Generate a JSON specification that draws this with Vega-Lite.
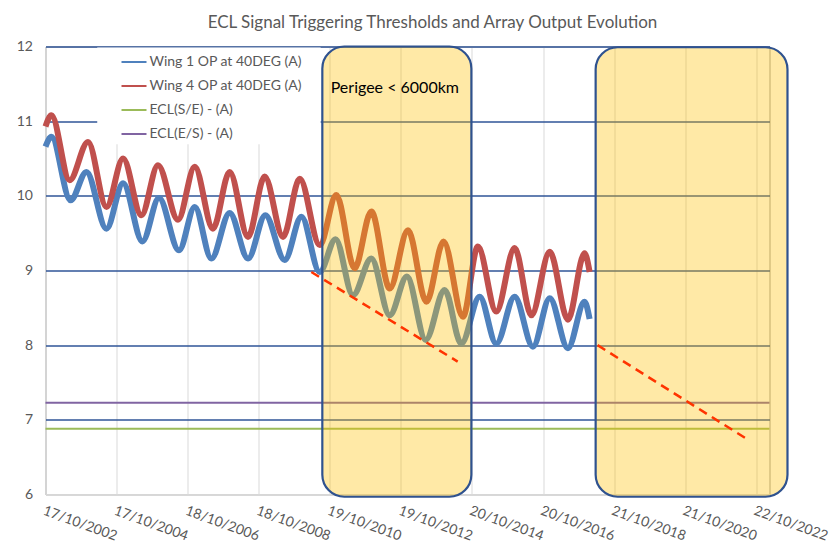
{
  "$schema": "https://vega.github.io/schema/vega-lite/v6.json",
  "width": 724,
  "height": 448,
  "autosize": {"type": "none"},
  "padding": {"left": 45.5, "top": 46.5, "right": 68.5, "bottom": 50.5},
  "background": "white",
  "title": {
    "text": "ECL Signal Triggering Thresholds and Array Output Evolution",
    "font": "Lato", "fontSize": 17, "fontWeight": "normal", "color": "#595959",
    "anchor": "middle", "offset": 8, "dx": 25
  },
  "config": {
    "view": {"stroke": "#A0A0A0", "strokeWidth": 1},
    "axis": {"labelFont": "Lato", "labelFontSize": 14, "labelColor": "#595959"}
  },
  "datasets": {
    "wing": [
      {"d": "2002-10-17", "s": "Wing 1 OP at 40DEG (A)", "v": 10.66},
      {"d": "2002-12-17", "s": "Wing 1 OP at 40DEG (A)", "v": 10.79},
      {"d": "2003-07-02", "s": "Wing 1 OP at 40DEG (A)", "v": 9.94},
      {"d": "2003-12-12", "s": "Wing 1 OP at 40DEG (A)", "v": 10.32},
      {"d": "2004-07-05", "s": "Wing 1 OP at 40DEG (A)", "v": 9.56},
      {"d": "2004-12-23", "s": "Wing 1 OP at 40DEG (A)", "v": 10.17},
      {"d": "2005-07-10", "s": "Wing 1 OP at 40DEG (A)", "v": 9.39},
      {"d": "2005-12-27", "s": "Wing 1 OP at 40DEG (A)", "v": 9.97},
      {"d": "2006-07-21", "s": "Wing 1 OP at 40DEG (A)", "v": 9.27},
      {"d": "2006-12-30", "s": "Wing 1 OP at 40DEG (A)", "v": 9.85},
      {"d": "2007-06-19", "s": "Wing 1 OP at 40DEG (A)", "v": 9.16},
      {"d": "2007-12-24", "s": "Wing 1 OP at 40DEG (A)", "v": 9.77},
      {"d": "2008-06-30", "s": "Wing 1 OP at 40DEG (A)", "v": 9.16},
      {"d": "2008-12-25", "s": "Wing 1 OP at 40DEG (A)", "v": 9.74},
      {"d": "2009-07-12", "s": "Wing 1 OP at 40DEG (A)", "v": 9.14},
      {"d": "2009-12-31", "s": "Wing 1 OP at 40DEG (A)", "v": 9.72},
      {"d": "2010-07-07", "s": "Wing 1 OP at 40DEG (A)", "v": 8.98},
      {"d": "2010-12-17", "s": "Wing 1 OP at 40DEG (A)", "v": 9.42},
      {"d": "2011-06-14", "s": "Wing 1 OP at 40DEG (A)", "v": 8.67},
      {"d": "2011-12-20", "s": "Wing 1 OP at 40DEG (A)", "v": 9.16},
      {"d": "2012-06-26", "s": "Wing 1 OP at 40DEG (A)", "v": 8.40},
      {"d": "2012-12-20", "s": "Wing 1 OP at 40DEG (A)", "v": 8.92},
      {"d": "2013-07-01", "s": "Wing 1 OP at 40DEG (A)", "v": 8.07},
      {"d": "2014-01-12", "s": "Wing 1 OP at 40DEG (A)", "v": 8.74},
      {"d": "2014-07-02", "s": "Wing 1 OP at 40DEG (A)", "v": 8.02},
      {"d": "2015-01-07", "s": "Wing 1 OP at 40DEG (A)", "v": 8.65},
      {"d": "2015-06-27", "s": "Wing 1 OP at 40DEG (A)", "v": 8.02},
      {"d": "2016-01-02", "s": "Wing 1 OP at 40DEG (A)", "v": 8.65},
      {"d": "2016-07-08", "s": "Wing 1 OP at 40DEG (A)", "v": 7.98},
      {"d": "2016-12-28", "s": "Wing 1 OP at 40DEG (A)", "v": 8.63},
      {"d": "2017-07-03", "s": "Wing 1 OP at 40DEG (A)", "v": 7.96},
      {"d": "2017-12-21", "s": "Wing 1 OP at 40DEG (A)", "v": 8.58},
      {"d": "2018-02-11", "s": "Wing 1 OP at 40DEG (A)", "v": 8.35},
      {"d": "2002-10-17", "s": "Wing 4 OP at 40DEG (A)", "v": 10.93},
      {"d": "2002-12-17", "s": "Wing 4 OP at 40DEG (A)", "v": 11.08},
      {"d": "2003-06-22", "s": "Wing 4 OP at 40DEG (A)", "v": 10.21},
      {"d": "2003-12-28", "s": "Wing 4 OP at 40DEG (A)", "v": 10.72},
      {"d": "2004-07-05", "s": "Wing 4 OP at 40DEG (A)", "v": 9.85},
      {"d": "2004-12-23", "s": "Wing 4 OP at 40DEG (A)", "v": 10.50},
      {"d": "2005-06-29", "s": "Wing 4 OP at 40DEG (A)", "v": 9.74},
      {"d": "2005-12-17", "s": "Wing 4 OP at 40DEG (A)", "v": 10.41},
      {"d": "2006-07-11", "s": "Wing 4 OP at 40DEG (A)", "v": 9.68},
      {"d": "2006-12-30", "s": "Wing 4 OP at 40DEG (A)", "v": 10.39},
      {"d": "2007-07-05", "s": "Wing 4 OP at 40DEG (A)", "v": 9.56},
      {"d": "2007-12-24", "s": "Wing 4 OP at 40DEG (A)", "v": 10.32},
      {"d": "2008-06-30", "s": "Wing 4 OP at 40DEG (A)", "v": 9.45},
      {"d": "2008-12-18", "s": "Wing 4 OP at 40DEG (A)", "v": 10.26},
      {"d": "2009-06-25", "s": "Wing 4 OP at 40DEG (A)", "v": 9.45},
      {"d": "2009-12-14", "s": "Wing 4 OP at 40DEG (A)", "v": 10.23},
      {"d": "2010-07-07", "s": "Wing 4 OP at 40DEG (A)", "v": 9.34},
      {"d": "2010-12-25", "s": "Wing 4 OP at 40DEG (A)", "v": 10.01},
      {"d": "2011-07-01", "s": "Wing 4 OP at 40DEG (A)", "v": 9.03},
      {"d": "2011-12-20", "s": "Wing 4 OP at 40DEG (A)", "v": 9.79},
      {"d": "2012-06-26", "s": "Wing 4 OP at 40DEG (A)", "v": 8.76},
      {"d": "2012-12-31", "s": "Wing 4 OP at 40DEG (A)", "v": 9.54},
      {"d": "2013-07-08", "s": "Wing 4 OP at 40DEG (A)", "v": 8.58},
      {"d": "2014-01-01", "s": "Wing 4 OP at 40DEG (A)", "v": 9.39},
      {"d": "2014-07-19", "s": "Wing 4 OP at 40DEG (A)", "v": 8.38},
      {"d": "2014-12-20", "s": "Wing 4 OP at 40DEG (A)", "v": 9.32},
      {"d": "2015-06-27", "s": "Wing 4 OP at 40DEG (A)", "v": 8.45},
      {"d": "2016-01-02", "s": "Wing 4 OP at 40DEG (A)", "v": 9.30},
      {"d": "2016-06-22", "s": "Wing 4 OP at 40DEG (A)", "v": 8.40},
      {"d": "2016-12-28", "s": "Wing 4 OP at 40DEG (A)", "v": 9.25},
      {"d": "2017-07-03", "s": "Wing 4 OP at 40DEG (A)", "v": 8.34},
      {"d": "2017-12-21", "s": "Wing 4 OP at 40DEG (A)", "v": 9.23},
      {"d": "2018-02-11", "s": "Wing 4 OP at 40DEG (A)", "v": 8.98}
    ],
    "thresholds": [
      {"s": "ECL(S/E) - (A)", "v": 6.88},
      {"s": "ECL(E/S) - (A)", "v": 7.23}
    ],
    "boxes": [
      {"d1": "2010-08-03", "d2": "2014-10-14", "v1": 5.97, "v2": 12},
      {"d1": "2018-04-14", "d2": "2023-09-08", "v1": 5.97, "v2": 11.99}
    ],
    "blank": [
      {"d1": "2004-04-01", "d2": "2010-07-17", "v1": 10.69, "v2": 11.985}
    ],
    "trend": [
      {"seg": 1, "d": "2010-04-12", "v": 8.98},
      {"seg": 1, "d": "2014-05-26", "v": 7.78},
      {"seg": 2, "d": "2018-05-04", "v": 8.00},
      {"seg": 2, "d": "2022-08-14", "v": 6.72}
    ],
    "notes": [
      {"d": "2010-10-28", "v": 11.444, "t": "Perigee < 6000km"}
    ]
  },
  "layer": [
    {
      "data": {"name": "blank"},
      "mark": {"type": "rect", "fill": "white"},
      "encoding": {
        "x": {
          "field": "d1", "type": "temporal",
          "scale": {
            "type": "utc",
            "domain": [
              {"year": 2002, "month": 10, "date": 17, "utc": true},
              {"year": 2023, "month": 3, "date": 7, "utc": true}
            ]
          },
          "axis": {
            "title": null,
            "values": [
              {"year": 2002, "month": 10, "date": 17, "utc": true},
              {"year": 2004, "month": 10, "date": 17, "utc": true},
              {"year": 2006, "month": 10, "date": 18, "utc": true},
              {"year": 2008, "month": 10, "date": 18, "utc": true},
              {"year": 2010, "month": 10, "date": 19, "utc": true},
              {"year": 2012, "month": 10, "date": 19, "utc": true},
              {"year": 2014, "month": 10, "date": 20, "utc": true},
              {"year": 2016, "month": 10, "date": 20, "utc": true},
              {"year": 2018, "month": 10, "date": 21, "utc": true},
              {"year": 2020, "month": 10, "date": 21, "utc": true},
              {"year": 2022, "month": 10, "date": 22, "utc": true}
            ],
            "labelExpr": "utcFormat(datum.value, '%d/%m/%Y')",
            "grid": true,
            "gridColor": "#D9D9D9",
            "gridWidth": 1,
            "domain": true,
            "domainColor": "#D9D9D9",
            "ticks": false,
            "labelAngle": 20,
            "labelAlign": "left",
            "labelBaseline": "top",
            "labelPadding": 9,
            "labelOverlap": false,
            "labelFlush": false
          }
        },
        "x2": {"field": "d2"},
        "y": {
          "field": "v1", "type": "quantitative",
          "scale": {"domain": [6, 12], "nice": false, "zero": false},
          "axis": {
            "title": null,
            "values": [6, 7, 8, 9, 10, 11, 12],
            "format": "d",
            "domain": false,
            "ticks": false,
            "grid": true,
            "gridColor": {"condition": {"test": "datum.value == 6", "value": "#D9D9D9"}, "value": "#2F5597"},
            "gridWidth": 1.3,
            "labelPadding": 13
          }
        },
        "y2": {"field": "v2"}
      }
    },
    {
      "data": {"name": "wing"},
      "mark": {"type": "line", "strokeWidth": 6, "interpolate": "monotone"},
      "encoding": {
        "x": {"field": "d", "type": "temporal"},
        "y": {"field": "v", "type": "quantitative"},
        "color": {
          "field": "s", "type": "nominal",
          "scale": {
            "domain": ["Wing 1 OP at 40DEG (A)", "Wing 4 OP at 40DEG (A)", "ECL(S/E) - (A)", "ECL(E/S) - (A)"],
            "range": ["#4F81BD", "#C0504D", "#9BBB59", "#8064A2"]
          },
          "legend": {
            "title": null,
            "orient": "none",
            "legendX": 75,
            "legendY": 2,
            "symbolType": "stroke",
            "symbolSize": 625,
            "symbolStrokeWidth": 2,
            "labelFont": "Lato",
            "labelFontSize": 14,
            "labelColor": "#595959",
            "labelOffset": 2,
            "rowPadding": 3,
            "padding": 0
          }
        }
      }
    },
    {
      "data": {"name": "thresholds"},
      "mark": {"type": "rule", "strokeWidth": 2},
      "encoding": {
        "y": {"field": "v", "type": "quantitative"},
        "color": {"field": "s", "type": "nominal"}
      }
    },
    {
      "data": {"name": "boxes"},
      "mark": {"type": "rect", "fill": "#FFC000", "fillOpacity": 0.35, "stroke": "#2F528F", "strokeWidth": 2.2, "cornerRadius": 22},
      "encoding": {
        "x": {"field": "d1", "type": "temporal"},
        "x2": {"field": "d2"},
        "y": {"field": "v1", "type": "quantitative"},
        "y2": {"field": "v2"}
      }
    },
    {
      "data": {"name": "trend"},
      "mark": {"type": "line", "stroke": "#FF3300", "strokeWidth": 2.5, "strokeDash": [9, 6]},
      "encoding": {
        "x": {"field": "d", "type": "temporal"},
        "y": {"field": "v", "type": "quantitative"},
        "detail": {"field": "seg", "type": "nominal"}
      }
    },
    {
      "data": {"name": "notes"},
      "mark": {"type": "text", "font": "Lato", "fontSize": 16, "fontWeight": "normal", "color": "#000000", "align": "left", "baseline": "middle"},
      "encoding": {
        "x": {"field": "d", "type": "temporal"},
        "y": {"field": "v", "type": "quantitative"},
        "text": {"field": "t"}
      }
    }
  ]
}
